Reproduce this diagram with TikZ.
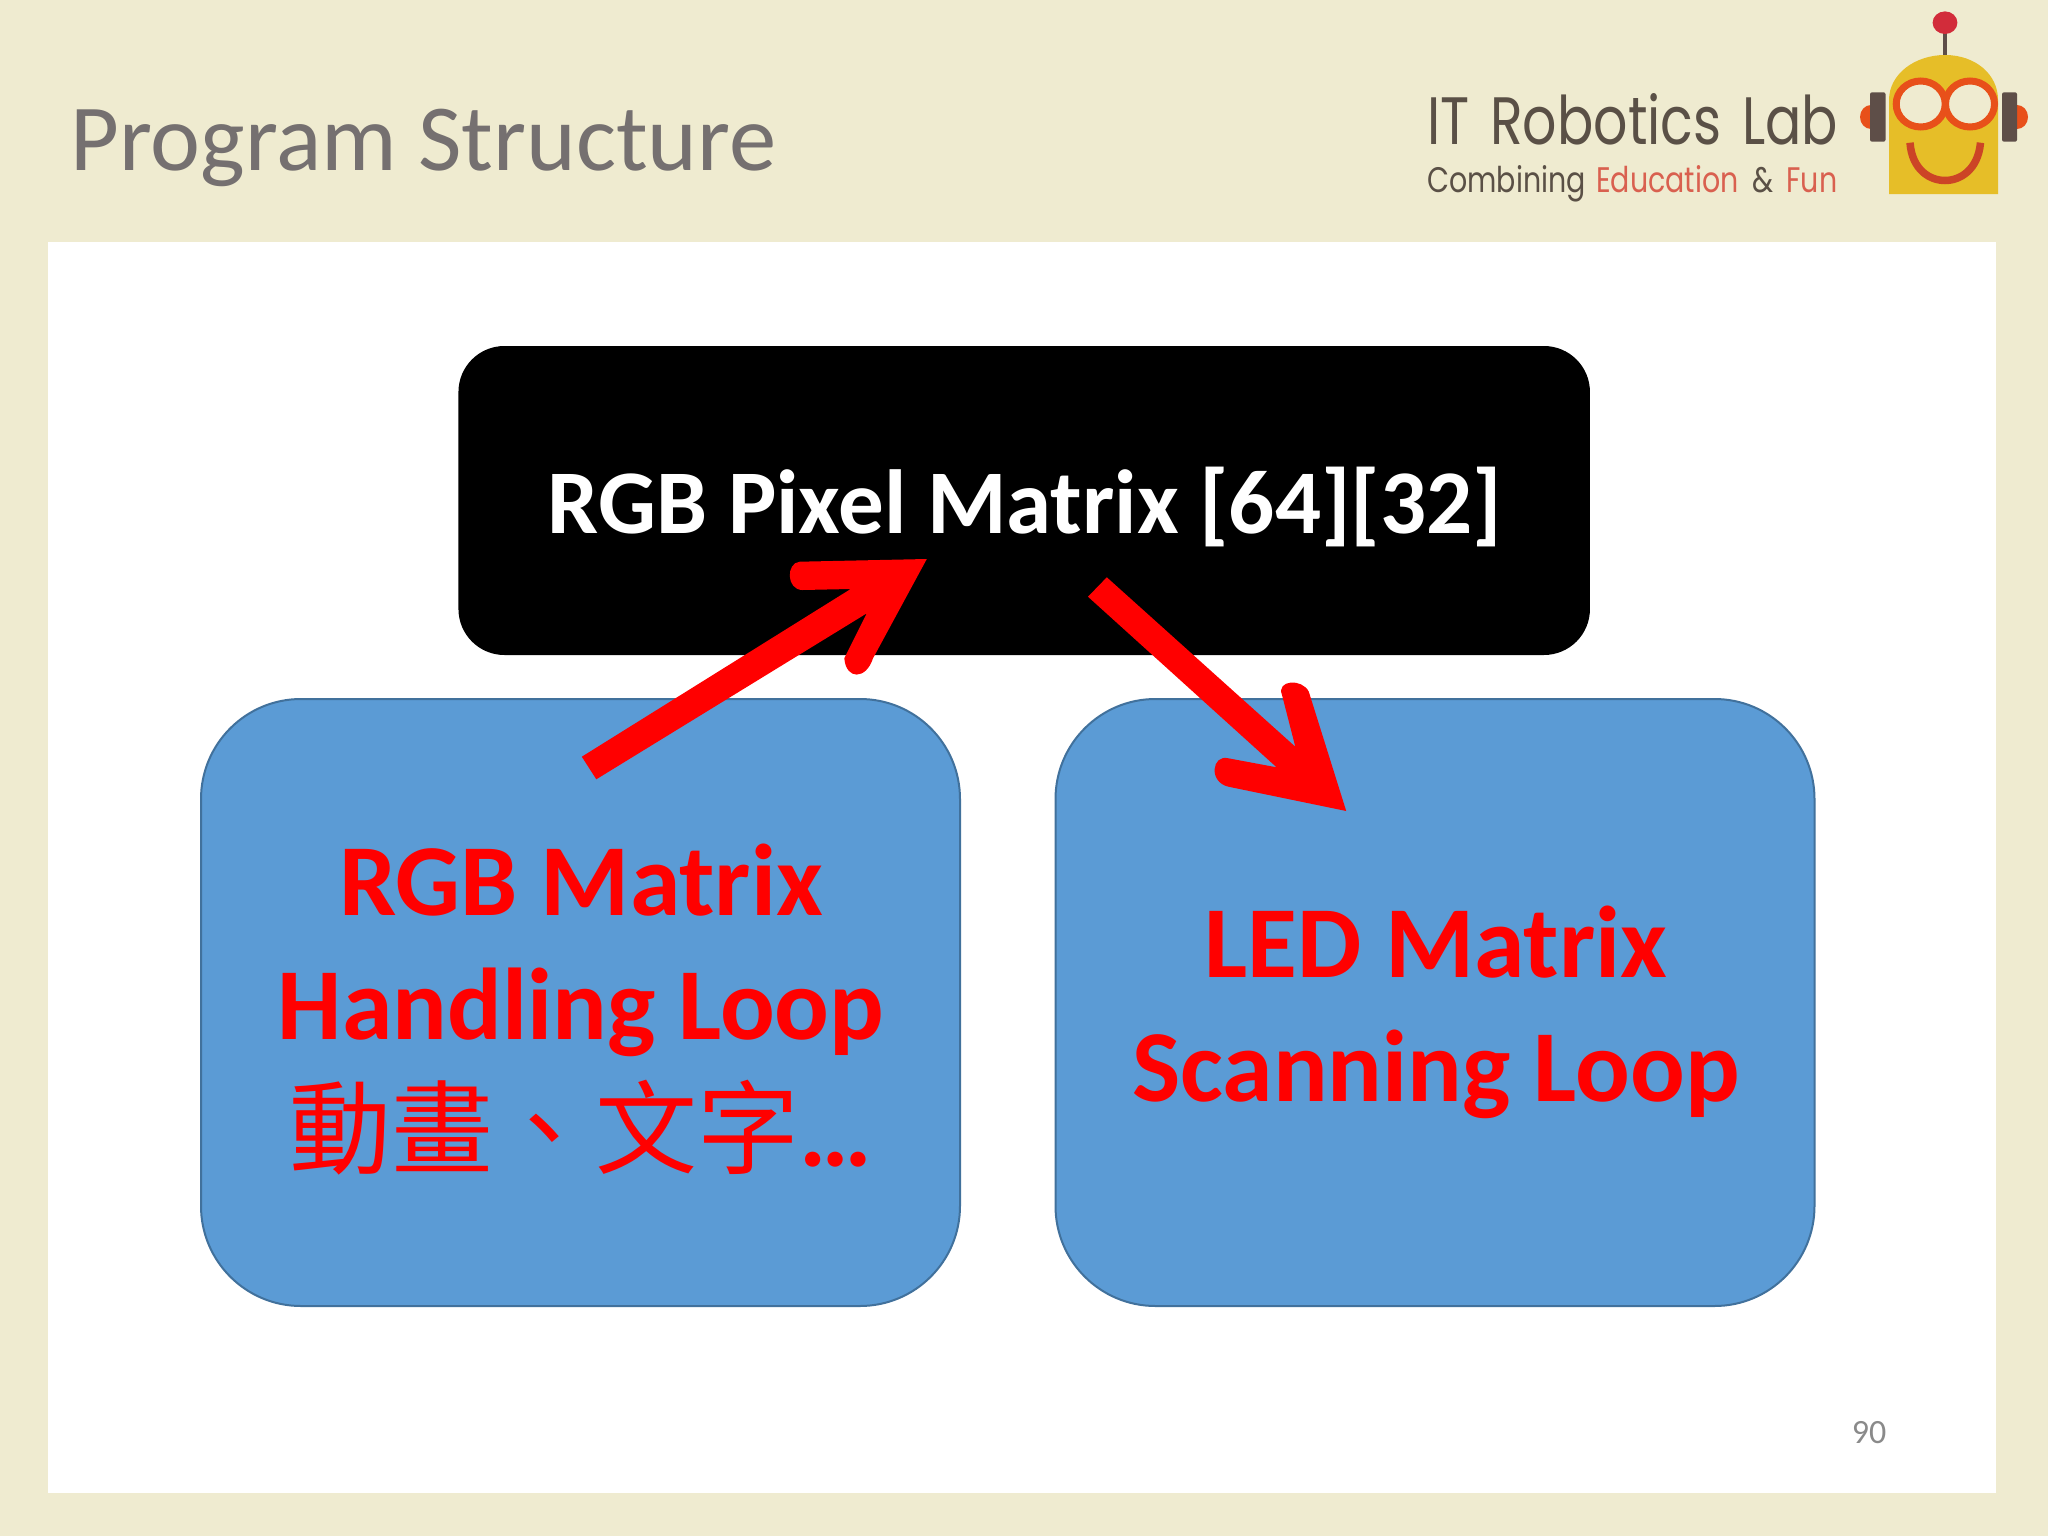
\documentclass[tikz,border=0pt]{standalone}
\usepackage{fontspec}
\setmainfont{Carlito}
\newfontfamily\cjkfont{Noto Sans CJK TC}
\newfontfamily\logofont{Poppins}
\definecolor{slidebg}{HTML}{EFEBD0}
\definecolor{titlegrey}{HTML}{757070}
\definecolor{boxblue}{HTML}{5B9BD5}
\definecolor{boxedge}{HTML}{41719C}
\definecolor{logotext}{HTML}{5A5046}
\definecolor{logored}{HTML}{D9604F}
\definecolor{robotyellow}{HTML}{E6BE28}
\definecolor{robotorange}{HTML}{E8501A}
\definecolor{robotdark}{HTML}{5E4E48}
\definecolor{robotball}{HTML}{D22C3A}
\definecolor{robotsmile}{HTML}{CC4426}
\tikzset{
  blackbox/.style={fill=black,rounded corners=46pt,minimum width=1131.5pt,minimum height=309pt,inner sep=0pt},
  bluebox/.style={fill=boxblue,draw=boxedge,line width=2pt,rounded corners=100pt,minimum width=759pt,minimum height=607pt,inner sep=0pt},
  boxtext/.style={inner sep=0pt,text=red,align=center,font=\fontsize{102}{124}\selectfont\bfseries},
  pixeltext/.style={anchor=base,inner sep=0pt,text=white,font=\fontsize{91}{100}\selectfont\bfseries},
  redarrow/.style={fill=red,draw=none},
  logoline/.style={anchor=base west,inner sep=0pt},
  earbar/.style={fill=robotdark,rounded corners=2pt},
  earcap/.style={fill=robotorange},
  eyering/.style={draw=robotorange,line width=7pt,fill=slidebg}
}
\begin{document}
\begin{tikzpicture}[x=1pt,y=-1pt]
\useasboundingbox (0,0) rectangle (2048,1536);
\fill[slidebg] (0,0) rectangle (2048,1536);
\fill[white] (48,242) rectangle (1996,1493);
\node[anchor=base west,inner sep=0pt,text=titlegrey,font=\fontsize{94.6}{100}\selectfont] (title) at (70,170) {Program Structure};
\node[logoline,text=logotext] (logoA) at (1427,144) {\resizebox{411pt}{51pt}{\logofont IT\hspace{0.12em} Robotics\hspace{0.12em} Lab}};
\node[logoline,text=logotext] (logoB) at (1427,193) {\resizebox{410pt}{27pt}{\logofont Combining\hspace{0.1em} \textcolor{logored}{Education}\hspace{0.2em} \&\hspace{0.2em} \textcolor{logored}{Fun}}};
% robot
\draw[robotdark,line width=4pt] (1945,25) -- (1945,58);
\fill[robotball] (1945,22.7) ellipse (12.4 and 11.3);
\fill[earcap] (1871,117) ellipse (11 and 12);
\fill[earcap] (2017,117) ellipse (11 and 12);
\fill[earbar] (1870,92.3) rectangle (1885.5,141.7);
\fill[earbar] (2002,92.3) rectangle (2017,141.7);
\fill[robotyellow] (1889,194) -- (1889,100) .. controls (1889,74) and (1915,55) .. (1945,55) .. controls (1975,55) and (1998,74) .. (1998,100) -- (1998,194) -- cycle;
\draw[eyering] (1920.7,104) ellipse (24.5 and 23);
\draw[eyering] (1970,104) ellipse (24.5 and 23);
\draw[robotsmile,line width=7.5pt] (1910,142.7) .. controls (1912,170) and (1930,180.5) .. (1945,180.5) .. controls (1960,180.5) and (1978,170) .. (1980.5,142.7);
% boxes
\node[blackbox] (pixel) at (1024.2,500.5) {};
\node[pixeltext] (pixellabel) at (1025,533) {RGB Pixel Matrix [64][32]};
\node[bluebox] (handling) at (580.5,1002.5) {};
\node[bluebox] (scanning) at (1435,1002.5) {};
\node[boxtext] (handlinglabel) at (581,1010) {RGB Matrix\\Handling Loop\\[3pt]{\cjkfont\mdseries\fontsize{102}{124}\selectfont 動畫、文字}…};
\node[boxtext] (scanninglabel) at (1436,1012) {LED Matrix\\Scanning Loop};
\node[anchor=base,inner sep=0pt,text=black!46,font=\fontsize{34}{40}\selectfont] (pagenum) at (1869,1443) {90};
% arrows
\fill[redarrow] (581.8,756.7) -- (850.7,589) -- (802.5,590) .. controls (786,590) and (786,562.5) .. (799.8,561.7) -- (926.8,559) -- (873,658.3) .. controls (866,680) and (846,680) .. (844.3,658.3) -- (866.8,613.3) -- (596.3,779.3) -- cycle;
\fill[redarrow] (1106.8,577.3) -- (1295.3,746.7) -- (1282,695) .. controls (1276,680) and (1302,678) .. (1308.8,691.7) -- (1346.2,811) -- (1228.4,786.7) .. controls (1208,782) and (1212,754) .. (1228.4,758.3) -- (1276.6,767.3) -- (1088,596.7) -- cycle;
\end{tikzpicture}
\end{document}
